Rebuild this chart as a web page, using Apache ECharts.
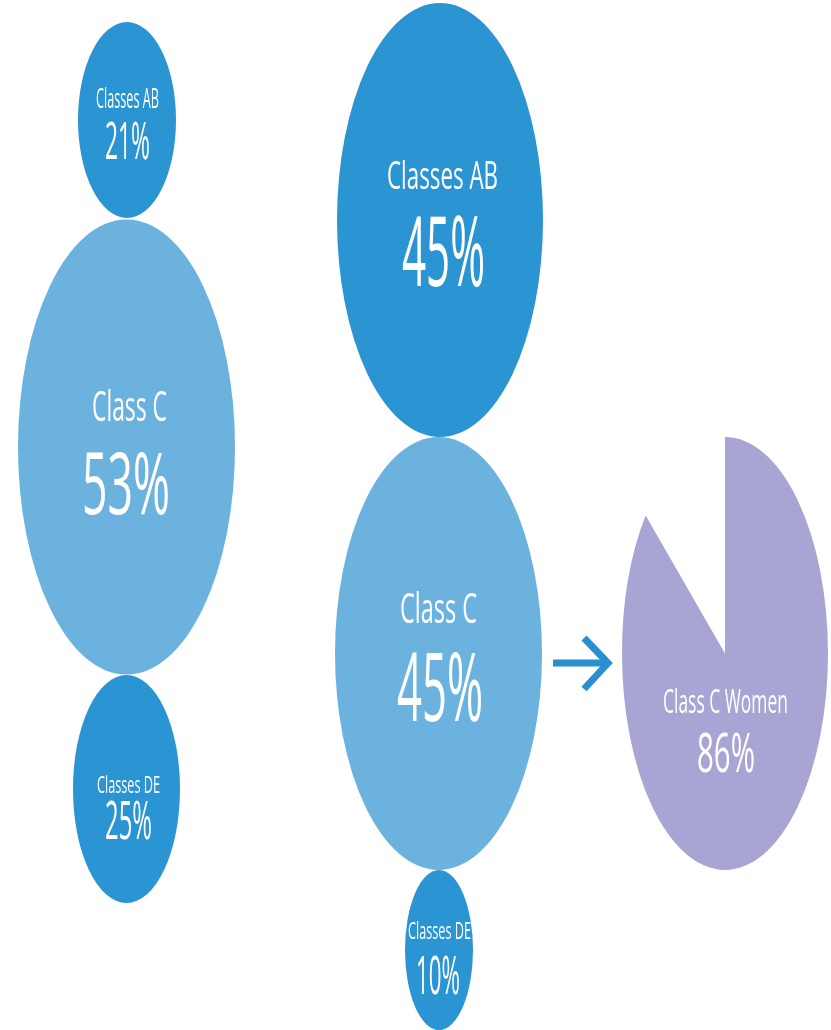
<!DOCTYPE html>
<html>
<head>
<meta charset="utf-8">
<script src="https://cdn.jsdelivr.net/npm/echarts@6/dist/echarts.min.js"></script>
<style>
  html, body { margin: 0; padding: 0; background: #ffffff; }
  #chart { width: 831px; height: 1030px; }
</style>
</head>
<body>
<div id="chart"></div>
<script>
// ---- data ----
const beforeCategories = ['Classes AB', 'Class C', 'Classes DE'];
const beforeValues = [21, 53, 25];
const afterCategories = ['Classes AB', 'Class C', 'Classes DE'];
const afterValues = [45, 45, 10];
const womenCategory = 'Class C Women';
const womenValue = 86;

// ---- layout (chart-space units, x 0..831, y 0..1030) ----
// ellipse: [cx, cy, rx, ry]
const beforeShapes = [[127, 120, 49, 98], [126.5, 447, 108.5, 227.5], [126.5, 789, 53.5, 114]];
const afterShapes = [[440, 220, 103, 217], [438.5, 653.5, 103.5, 216.5], [439, 950, 34, 80]];
const womenShape = [725, 653.5, 103, 216.5];
// text boxes: [cx, cy, width, height] for label and percentage
const beforeLabelBoxes = [[127.5, 97.5, 63, 21], [129.5, 405, 75, 33], [128.5, 784, 63, 19]];
const beforePctBoxes = [[127.5, 141, 45, 38], [126, 483, 88, 64], [128.5, 820, 47, 40]];
const afterLabelBoxes = [[442.5, 174, 111, 30], [438.5, 606.5, 77, 33], [439.5, 930, 63, 19]];
const afterPctBoxes = [[443.5, 251, 83, 72], [440, 687, 86, 70], [438, 975, 44, 40]];
const womenLabelBox = [725.5, 700.5, 125, 25];
const womenPctBox = [726, 752.5, 58, 41];

// ---- styles ----
const COLOR_DARK = '#2b94d2';
const COLOR_LIGHT = '#6cb2de';
const COLOR_WOMEN = '#a8a4d3';
const FONT_FAMILY = '"Open Sans"';
const FONT_WEIGHT = '400';

const bubbleColors = [COLOR_DARK, COLOR_LIGHT, COLOR_DARK];

// build bubble data
const bubbleData = [];
beforeCategories.forEach((c, i) => bubbleData.push({
  name: c, value: beforeShapes[i].concat([beforeValues[i]]),
  color: bubbleColors[i], label: beforeLabelBoxes[i], pct: beforePctBoxes[i]
}));
afterCategories.forEach((c, i) => bubbleData.push({
  name: c, value: afterShapes[i].concat([afterValues[i]]),
  color: bubbleColors[i], label: afterLabelBoxes[i], pct: afterPctBoxes[i]
}));

// text measurement to fit boxes
const mcanvas = document.createElement('canvas');
const mctx = mcanvas.getContext('2d');
function fitText(text, box, api) {
  mctx.font = FONT_WEIGHT + ' 100px ' + FONT_FAMILY;
  mctx.textBaseline = 'middle';
  const m = mctx.measureText(text);
  const p = api.coord([box[0], box[1]]);
  const w = api.size([box[2], 0])[0];
  const h = api.size([0, box[3]])[1];
  const fs = 100 * w / m.width;
  const asc = m.actualBoundingBoxAscent * fs / 100;
  const desc = m.actualBoundingBoxDescent * fs / 100;
  const s = h / (asc + desc);
  const y = p[1] - s * (desc - asc) / 2;
  return {
    type: 'text',
    x: p[0], y: y, scaleY: s,
    style: {
      text: text, x: 0, y: 0, fill: '#ffffff',
      font: FONT_WEIGHT + ' ' + fs.toFixed(2) + 'px ' + FONT_FAMILY,
      align: 'center', verticalAlign: 'middle',
      textAlign: 'center', textVerticalAlign: 'middle'
    }
  };
}

function ellipseEl(shape, api, color) {
  const c = api.coord([shape[0], shape[1]]);
  const rx = api.size([shape[2], 0])[0];
  const ry = api.size([0, shape[3]])[1];
  return {
    type: 'circle', x: c[0], y: c[1], scaleY: ry / rx,
    shape: { cx: 0, cy: 0, r: rx },
    style: { fill: color }
  };
}

const chart = echarts.init(document.getElementById('chart'), null, { renderer: 'canvas' });
chart.setOption({
  backgroundColor: '#ffffff',
  animation: false,
  grid: { left: 0, right: 0, top: 0, bottom: 0 },
  xAxis: { type: 'value', min: 0, max: 831, show: false },
  yAxis: { type: 'value', min: 0, max: 1030, inverse: true, show: false },
  series: [
    {
      type: 'custom',
      coordinateSystem: 'cartesian2d',
      data: bubbleData,
      renderItem: function (params, api) {
        const d = bubbleData[params.dataIndex];
        const v = d.value;
        return {
          type: 'group',
          children: [
            ellipseEl(v, api, d.color),
            fitText(d.name, d.label, api),
            fitText(v[4] + '%', d.pct, api)
          ]
        };
      }
    },
    {
      type: 'custom',
      coordinateSystem: 'cartesian2d',
      data: [{ name: womenCategory, value: womenShape.concat([womenValue]) }],
      renderItem: function (params, api) {
        const c = api.coord([womenShape[0], womenShape[1]]);
        const rx = api.size([womenShape[2], 0])[0];
        const ry = api.size([0, womenShape[3]])[1];
        const start = -Math.PI / 2;
        const end = start + 2 * Math.PI * womenValue / 100;
        return {
          type: 'group',
          children: [
            {
              type: 'sector', x: c[0], y: c[1], scaleY: ry / rx,
              shape: { cx: 0, cy: 0, r0: 0, r: rx, startAngle: start, endAngle: end, clockwise: true },
              style: { fill: COLOR_WOMEN }
            },
            fitText(womenCategory, womenLabelBox, api),
            fitText(womenValue + '%', womenPctBox, api)
          ]
        };
      }
    }
  ],
  graphic: [
    {
      type: 'polyline',
      shape: { points: [[553, 663], [607, 663]] },
      style: { stroke: '#2a8fd0', lineWidth: 7, fill: null }
    },
    {
      type: 'polyline',
      shape: { points: [[584, 638], [608, 663], [584, 689]] },
      style: { stroke: '#2a8fd0', lineWidth: 7, fill: null, lineJoin: 'miter' }
    }
  ]
});
</script>
</body>
</html>
